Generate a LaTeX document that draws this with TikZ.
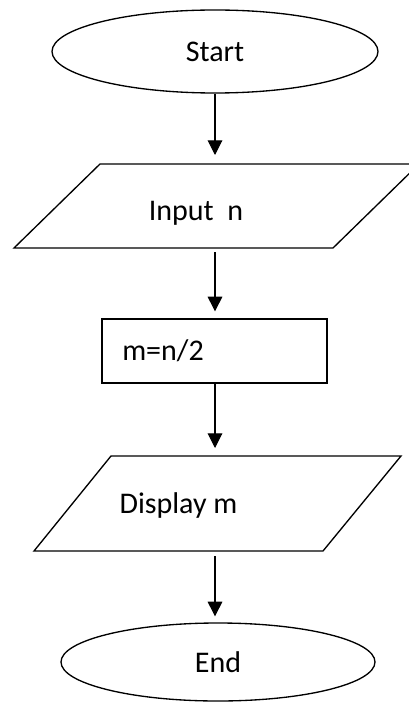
\documentclass[tikz,border=0pt]{standalone}
\usepackage{fontspec}
\setmainfont{Carlito}
\usetikzlibrary{shapes.geometric,arrows.meta}
\begin{document}
\begin{tikzpicture}[x=0.75pt,y=-0.75pt,
  every node/.style={font=\fontsize{22.5}{27}\selectfont},
  box/.style={draw=black, line width=1pt, inner sep=0pt, line join=miter},
  term/.style={box, ellipse},
  proc/.style={box, rectangle},
  lbl/.style={inner sep=0pt, anchor=base},
  arr/.style={draw=black, line width=0.8pt, -{Triangle[length=11pt,width=11pt]}}
]
\clip (0,0) rectangle (409,702);
\fill[white] (0,0) rectangle (409,702);
% Start
\node[term, minimum width=244.5pt, minimum height=62.25pt] (start) at (215,51.5) {Start};
% Input parallelogram
\coordinate (inbl) at (14,248);
\coordinate (intl) at (100,164);
\coordinate (intr) at (419,164);
\coordinate (inbr) at (333,248);
\draw[box] (inbl) -- (intl) -- (intr) -- (inbr) -- cycle;
\node[lbl] (inputtext) at (196,220) {Input\ \ n};
% Process
\node[proc, minimum width=168.75pt, minimum height=48pt] (calc) at (214.5,351) {};
\node[lbl, anchor=base west] (calctext) at (122,360) {m=n/2};
% Display parallelogram
\coordinate (dbl) at (34,551);
\coordinate (dtl) at (111,456);
\coordinate (dtr) at (401,456);
\coordinate (dbr) at (323,551);
\draw[box] (dbl) -- (dtl) -- (dtr) -- (dbr) -- cycle;
\node[lbl] (disptext) at (178.5,513) {Display m};
% End
\node[term, minimum width=235.5pt, minimum height=58.5pt] (end) at (218,662) {End};
% Connectors
\draw[arr, shorten >=6.75pt] (start.south) -- (start.south |- intl);
\draw[arr, shorten <=3pt, shorten >=5.25pt] (start.south |- inbl) -- (start.south |- calc.north);
\draw[arr, shorten >=6pt] (start.south |- calc.south) -- (start.south |- dtl);
\draw[arr, shorten <=3.75pt, shorten >=4.5pt] (start.south |- dbl) -- (start.south |- end.north);
\end{tikzpicture}
\end{document}
